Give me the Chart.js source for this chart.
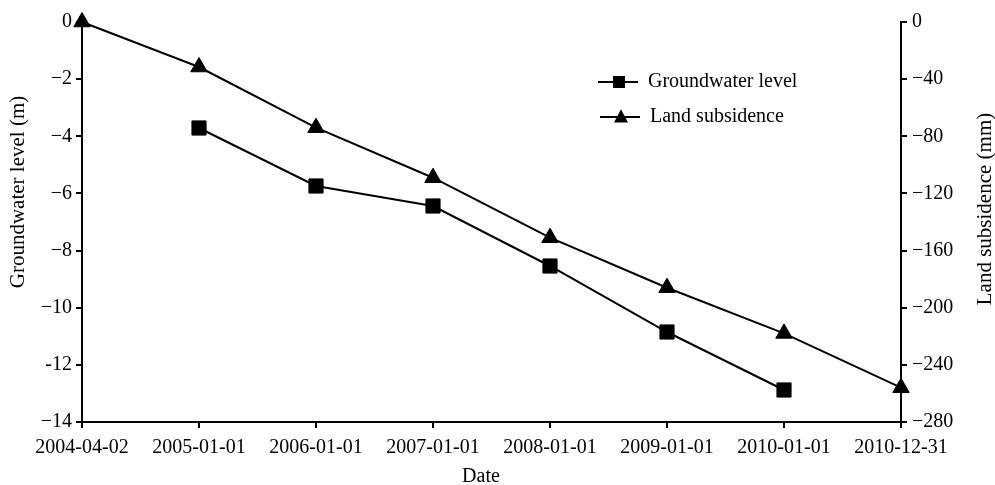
<!DOCTYPE html>
<html><head><meta charset="utf-8">
<script src="https://cdn.jsdelivr.net/npm/chart.js@4.4.1/dist/chart.umd.min.js"></script>
<style>html,body{margin:0;padding:0;background:#fff;} #wrap{width:995px;height:485px;position:relative;}</style>
</head><body><div id="wrap"><canvas id="c" width="995" height="485"></canvas></div>
<script>
const categories = ['2004-04-02','2005-01-01','2006-01-01','2007-01-01','2008-01-01','2009-01-01','2010-01-01','2010-12-31'];
const groundwaterLevel = [null, -3.71, -5.74, -6.44, -8.54, -10.85, -12.88, null];
const landSubsidence = [0, -31.5, -74, -109, -151, -186, -218, -256];
const leftTickLabels = ['0','\u22122','\u22124','\u22126','\u22128','\u221210','-12','\u221214'];
const rightTickLabels = ['0','\u221240','\u221280','\u2212120','\u2212160','\u2212200','\u2212240','\u2212280'];
const leftTitle = 'Groundwater level (m)';
const rightTitle = 'Land subsidence (mm)';
const xTitle = 'Date';

const FONT = '"Liberation Serif", "Times New Roman", serif';
const FS = 20;
const TS = 21;

function drawMarker(ctx, style, x, y, s){
  ctx.beginPath();
  if(style==='rect'){ ctx.rect(x-s/2, y-s/2, s, s); }
  else { ctx.moveTo(x, y-s*0.55); ctx.lineTo(x+s/2, y+s*0.4); ctx.lineTo(x-s/2, y+s*0.4); ctx.closePath(); }
  ctx.fill();
}

const overlay = {
  id:'overlay',
  afterDraw(chart){
    const ctx = chart.ctx;
    ctx.save();
    ctx.fillStyle = '#000'; ctx.strokeStyle = '#000';
    ctx.font = FS + 'px ' + FONT;
    ctx.textAlign = 'center'; ctx.textBaseline = 'middle';
    ctx.fillText(xTitle, 481, 477);
    ctx.font = TS + 'px ' + FONT;
    ctx.save(); ctx.translate(18, 192); ctx.rotate(-Math.PI/2); ctx.fillText(leftTitle, 0, 0); ctx.restore();
    ctx.save(); ctx.translate(985, 209); ctx.rotate(-Math.PI/2); ctx.fillText(rightTitle, 0, 0); ctx.restore();
    // legend
    ctx.font = FS + 'px ' + FONT;
    const rows = [{x0:598, y:82, tx:648}, {x0:600, y:117, tx:650}];
    chart.data.datasets.forEach((ds, i) => {
      const r = rows[i];
      ctx.lineWidth = 2;
      ctx.beginPath(); ctx.moveTo(r.x0, r.y); ctx.lineTo(r.x0 + 40, r.y); ctx.stroke();
      drawMarker(ctx, ds.pointStyle, r.x0 + 21, r.y, ds.pointStyle === 'rect' ? 12 : 14);
      ctx.textAlign = 'left';
      ctx.fillText(ds.label, r.tx, r.y);
    });
    ctx.restore();
  }
};

const axisCommon = {
  grid: {drawOnChartArea:false, drawTicks:true, tickLength:6, color:'#000', lineWidth:2},
  border: {display:true, color:'#000', width:2},
};

new Chart(document.getElementById('c'), {
  type: 'line',
  data: {
    labels: categories,
    datasets: [
      {label:'Groundwater level', data: groundwaterLevel, yAxisID:'y', borderColor:'#000', backgroundColor:'#000',
       borderWidth:2, pointStyle:'rect', pointRadius:10, pointBorderWidth:1, pointBackgroundColor:'#000', clip:false, tension:0, spanGaps:false},
      {label:'Land subsidence', data: landSubsidence, yAxisID:'y1', borderColor:'#000', backgroundColor:'#000',
       borderWidth:2, pointStyle:'triangle', pointRadius:9.5, pointBorderWidth:1, pointBackgroundColor:'#000', clip:false, tension:0}
    ]
  },
  options: {
    responsive:false, animation:false, devicePixelRatio:1,
    layout: {padding:{top:22, left:0, right:0, bottom:0}},
    plugins: {legend:{display:false}, tooltip:{enabled:false}},
    scales: {
      x: Object.assign({}, axisCommon, {
        type:'category', offset:false,
        ticks:{color:'#000', font:{family:FONT, size:FS}, padding:8, maxRotation:0, minRotation:0, autoSkip:false},
        afterFit(s){ s.height = 63; }
      }),
      y: Object.assign({}, axisCommon, {
        position:'left', min:-14, max:0,
        ticks:{stepSize:2, color:'#000', font:{family:FONT, size:FS}, padding:4,
          callback:(v)=> leftTickLabels[Math.round(-v/2)]},
        afterFit(s){ s.width = 82; }
      }),
      y1: Object.assign({}, axisCommon, {
        position:'right', min:-280, max:0,
        ticks:{stepSize:40, color:'#000', font:{family:FONT, size:FS}, padding:5,
          callback:(v)=> rightTickLabels[Math.round(-v/40)]},
        afterFit(s){ s.width = 94; }
      })
    }
  },
  plugins:[overlay]
});
</script>
</body></html>
